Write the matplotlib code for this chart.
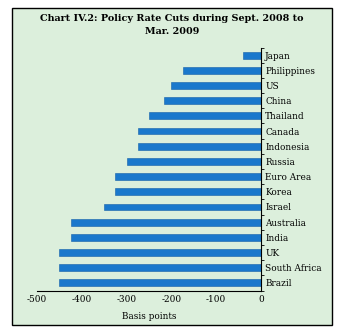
import numpy as np
import matplotlib.pyplot as plt
from matplotlib.patches import Rectangle

# Policy rate cuts, Sept 2008 - Mar 2009 (basis points), bottom to top
countries = ['Brazil', 'South Africa', 'UK', 'India', 'Australia', 'Israel',
             'Korea', 'Euro Area', 'Russia', 'Indonesia', 'Canada',
             'Thailand', 'China', 'US', 'Philippines', 'Japan']
cuts = [-450, -450, -450, -425, -425, -350, -325, -325, -300, -275, -275,
        -250, -216, -200, -175, -40]
xticks = [-500, -400, -300, -200, -100, 0]

bg = '#dcefdc'
bar_color = '#1a78cc'
serif = ['DejaVu Serif']

fig = plt.figure(figsize=(3.47, 3.34), dpi=100)
fig.patch.set_facecolor('white')

# framed panel
W, H = 347, 334
frame = Rectangle((12 / W, 1 - 325 / H), 320 / W, 317 / H,
                  transform=fig.transFigure, facecolor=bg,
                  edgecolor='black', linewidth=1.0, zorder=-1)
fig.patches.append(frame)

fig.text(172 / W, 1 - 25 / H,
         'Chart IV.2: Policy Rate Cuts during Sept. 2008 to\nMar. 2009',
         ha='center', va='center', fontsize=6.9, fontweight='bold',
         family=serif, linespacing=1.45)

ax = fig.add_axes([37 / W, 1 - 290.5 / H, 224 / W, 243 / H])
ax.set_facecolor('none')
ax.set_zorder(2)

y = np.arange(len(countries))
ax.barh(y, cuts, height=0.45, color=bar_color, edgecolor='#1560a8',
        linewidth=0.4)

ax.set_xlim(-500, 0)
ax.set_ylim(-0.5, len(countries) - 0.5)

ax.spines['left'].set_visible(False)
ax.spines['top'].set_visible(False)
ax.spines['right'].set_linewidth(0.8)
ax.spines['bottom'].set_linewidth(0.8)

ax.yaxis.tick_right()
ax.set_yticks(y)
ax.set_yticklabels(countries, family=serif, fontsize=6.4)
ax.tick_params(axis='y', which='major', length=0, pad=3)
ax.set_yticks(np.arange(-0.5, len(countries)), minor=True)
ax.tick_params(axis='y', which='minor', right=True, direction='out',
               length=2.5, width=0.6)

ax.set_xticks(xticks)
ax.set_xticklabels([str(v) for v in xticks], family=serif, fontsize=6.4)
ax.tick_params(axis='x', length=0, pad=3)
ax.set_xlabel('Basis points', family=serif, fontsize=6.4, labelpad=6)

fig.savefig('out.png', dpi=100)
